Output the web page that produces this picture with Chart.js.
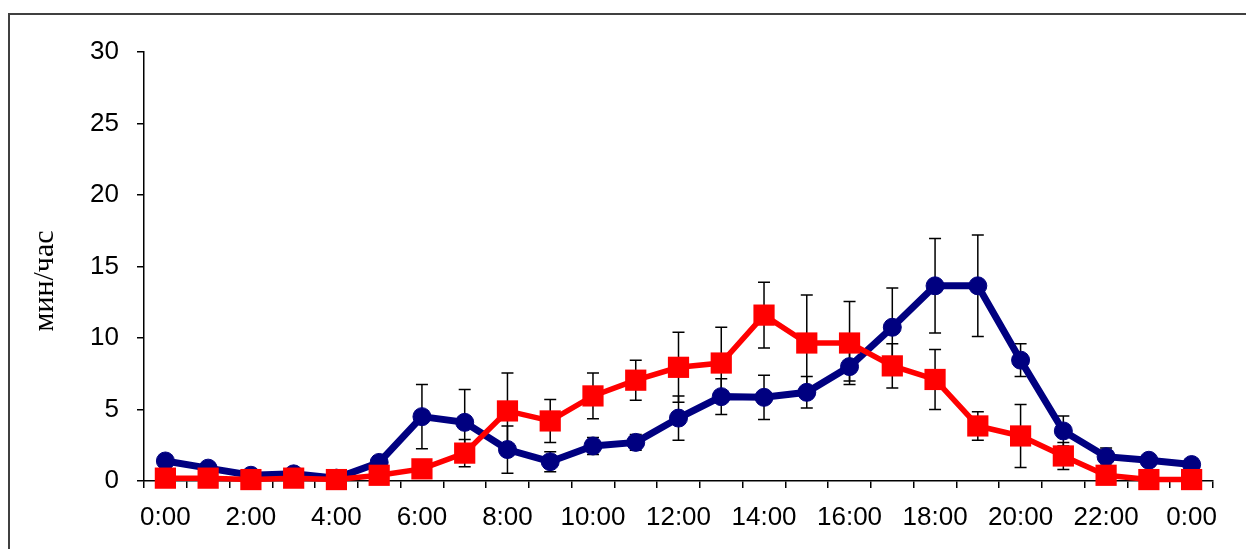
<!DOCTYPE html>
<html>
<head>
<meta charset="utf-8">
<script src="https://cdn.jsdelivr.net/npm/chart.js@4.4.0/dist/chart.umd.min.js"></script>
<style>
  html, body { margin: 0; padding: 0; background: #fff; }
  #wrap { width: 1246px; height: 549px; }
</style>
</head>
<body>
<div id="wrap"><canvas id="myChart" width="1246" height="549"></canvas></div>
<script>
// часы суток (25 точек, 0:00 ... 0:00)
var hours = ['0:00', '1:00', '2:00', '3:00', '4:00', '5:00', '6:00', '7:00', '8:00', '9:00',
  '10:00', '11:00', '12:00', '13:00', '14:00', '15:00', '16:00', '17:00', '18:00', '19:00',
  '20:00', '21:00', '22:00', '23:00', '0:00'];

// синяя кривая (круги) и её ошибки
var blueVals = [1.4, 0.9, 0.4, 0.5, 0.2, 1.3, 4.5, 4.1, 2.2, 1.35, 2.45, 2.7, 4.4, 5.9, 5.85,
  6.2, 8.0, 10.75, 13.65, 13.65, 8.45, 3.5, 1.7, 1.45, 1.15];
var blueErr = [0.3, 0.2, 0.1, 0.1, 0.1, 0.45, 2.25, 2.3, 1.65, 0.7, 0.6, 0.55, 1.55, 1.25, 1.55,
  1.1, 1.0, 2.75, 3.3, 3.55, 1.15, 1.05, 0.6, 0.3, 0.2];

// красная кривая (квадраты) и её ошибки
var redVals = [0.2, 0.2, 0.1, 0.2, 0.1, 0.4, 0.85, 1.95, 4.9, 4.2, 5.95, 7.05, 7.95, 8.25, 11.6,
  9.65, 9.65, 8.05, 7.1, 3.85, 3.15, 1.75, 0.4, 0.1, 0.1];
var redErr = [0.1, 0.1, 0.1, 0.1, 0.1, 0.2, 0.3, 0.95, 2.65, 1.5, 1.6, 1.4, 2.45, 2.5, 2.3,
  3.35, 2.9, 1.55, 2.1, 1.0, 2.2, 0.95, 0.3, 0.1, 0.1];

var yTitle = 'мин/час';

// рамка вокруг диаграммы
var framePlugin = {
  id: 'frame',
  beforeDraw: function (chart) {
    var c = chart.ctx;
    c.save();
    c.strokeStyle = '#404040';
    c.lineWidth = 2;
    c.strokeRect(9, 14, 1400, 700);
    c.restore();
  }
};

// планки погрешностей (рисуются под маркерами)
var errorBarsPlugin = {
  id: 'errorBars',
  beforeDatasetsDraw: function (chart) {
    var c = chart.ctx;
    var yScale = chart.scales.y;
    c.save();
    c.strokeStyle = '#000';
    c.lineWidth = 1.5;
    chart.data.datasets.forEach(function (ds, i) {
      var meta = chart.getDatasetMeta(i);
      meta.data.forEach(function (pt, j) {
        var v = ds.data[j], e = ds.errors[j];
        var top = yScale.getPixelForValue(v + e);
        var bot = yScale.getPixelForValue(Math.max(0, v - e));
        c.beginPath();
        c.moveTo(pt.x, top); c.lineTo(pt.x, bot);
        c.moveTo(pt.x - 6, top); c.lineTo(pt.x + 6, top);
        c.moveTo(pt.x - 6, bot); c.lineTo(pt.x + 6, bot);
        c.stroke();
      });
    });
    c.restore();
  }
};

// подпись оси Y
var yTitlePlugin = {
  id: 'yTitle',
  afterDraw: function (chart) {
    var c = chart.ctx;
    c.save();
    c.translate(45, 281);
    c.rotate(-Math.PI / 2);
    c.font = '30px "Liberation Serif", "Times New Roman", serif';
    c.fillStyle = '#000';
    c.textAlign = 'center';
    c.textBaseline = 'middle';
    c.fillText(yTitle, 0, 0);
    c.restore();
  }
};

var tickFont = { family: '"Liberation Sans", Arial, sans-serif', size: 26 };

var ctx = document.getElementById('myChart').getContext('2d');
var myChart = new Chart(ctx, {
  type: 'line',
  data: {
    labels: hours,
    datasets: [{
      label: 'blue',
      data: blueVals,
      errors: blueErr,
      borderColor: '#000080',
      backgroundColor: '#000080',
      borderWidth: 7,
      pointStyle: 'circle',
      pointRadius: 9,
      pointBorderWidth: 1,
      clip: false,
      order: 2
    }, {
      label: 'red',
      data: redVals,
      errors: redErr,
      borderColor: '#ff0000',
      backgroundColor: '#ff0000',
      borderWidth: 5.5,
      pointStyle: 'rect',
      pointRadius: 15,
      pointBorderWidth: 0,
      clip: false,
      order: 1
    }]
  },
  options: {
    responsive: false,
    animation: false,
    devicePixelRatio: 1,
    layout: { padding: { top: 52, right: 33, bottom: 0, left: 0 } },
    plugins: { legend: { display: false }, tooltip: { enabled: false } },
    scales: {
      x: {
        offset: true,
        afterFit: function (s) { s.height = 68; },
        grid: { offset: true, drawOnChartArea: false, color: '#000', tickLength: 7, lineWidth: 1.5 },
        border: { color: '#000', width: 1.5 },
        ticks: {
          autoSkip: false,
          maxRotation: 0,
          padding: 14,
          color: '#000',
          font: tickFont,
          callback: function (val, idx) { return idx % 2 === 0 ? hours[idx] : ''; }
        }
      },
      y: {
        min: 0,
        max: 30,
        afterFit: function (s) { s.width = 144; },
        grid: { drawOnChartArea: false, color: '#000', tickLength: 7, lineWidth: 1.5 },
        border: { color: '#000', width: 1.5 },
        ticks: { stepSize: 5, padding: 18, color: '#000', font: tickFont }
      }
    }
  },
  plugins: [framePlugin, errorBarsPlugin, yTitlePlugin]
});
</script>
</body>
</html>
